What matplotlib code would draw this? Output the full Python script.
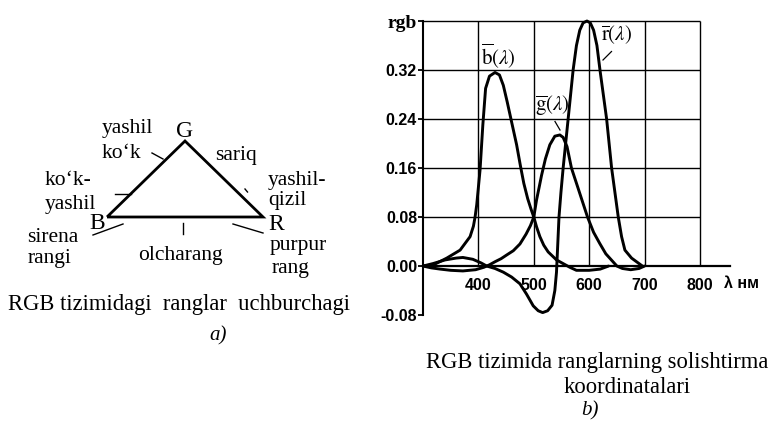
import matplotlib
matplotlib.use("Agg")
import matplotlib.pyplot as plt

plt.rcParams["mathtext.fontset"] = "stix"

# Relative colour coordinates of the RGB system (wavelength in nm)
b_nm = [300, 319, 343, 367, 385, 391, 394, 397, 403, 408, 413, 420, 430, 438,
        445, 452, 460, 469, 476, 482, 489, 495, 500, 505, 511, 518, 526, 541,
        555, 565, 577, 600, 620, 635]
b_val = [0.000, 0.002, 0.013, 0.026, 0.048, 0.065, 0.080, 0.100, 0.157, 0.230,
         0.290, 0.310, 0.316, 0.312, 0.295, 0.268, 0.235, 0.198, 0.163, 0.135,
         0.110, 0.093, 0.080, 0.064, 0.048, 0.034, 0.023, 0.010, 0.003, -0.002,
         -0.007, -0.007, -0.005, 0.000]

g_nm = [300, 315, 331, 350, 372, 395, 410, 420, 430, 441, 451, 463, 475, 486,
        494, 500, 505, 510, 514, 521, 529, 538, 547, 553, 560, 568, 580, 597,
        608, 619, 630, 641, 650, 660, 675, 690, 700]
g_val = [0.000, -0.003, -0.005, -0.007, -0.008, -0.006, -0.002, 0.002, 0.007,
         0.012, 0.018, 0.025, 0.036, 0.052, 0.066, 0.080, 0.108, 0.130, 0.148,
         0.175, 0.198, 0.212, 0.214, 0.210, 0.195, 0.160, 0.127, 0.080, 0.055,
         0.037, 0.020, 0.009, 0.000, -0.004, -0.006, -0.004, 0.000]

r_nm = [300, 318, 340, 360, 372, 390, 405, 415, 430, 445, 460, 475, 487, 499,
        508, 516, 525, 533, 538, 541, 543, 545.5, 549, 553, 562, 571, 577, 583,
        589, 596, 602, 608, 614, 619.5, 631.5, 640.5, 652.5, 658.5, 664.5,
        676.5, 688.5, 696]
r_val = [0.000, 0.004, 0.010, 0.013, 0.014, 0.011, 0.005, 0.000, -0.004,
         -0.010, -0.018, -0.029, -0.046, -0.065, -0.073, -0.076, -0.073, -0.064,
         -0.040, -0.010, 0.030, 0.080, 0.120, 0.160, 0.240, 0.320, 0.360, 0.385,
         0.397, 0.400, 0.397, 0.385, 0.360, 0.320, 0.240, 0.160, 0.080, 0.048,
         0.026, 0.013, 0.005, 0.000]

x_ticks = [400, 500, 600, 700, 800]
x_tick_labels = ["400", "500", "600", "700", "800"]
y_ticks = [-0.08, 0.00, 0.08, 0.16, 0.24, 0.32, 0.40]
y_tick_labels = ["-0.08", "0.00", "0.08", "0.16", "0.24", "0.32", "rgb"]
grid_y = [0.08, 0.16, 0.24, 0.32, 0.40]

W, H = 769, 425
fig = plt.figure(figsize=(W / 100, H / 100), dpi=100)

serif = "Liberation Serif"
sans_bold = ["Liberation Sans Narrow", "Liberation Sans"]

# ---------------- a) colour triangle (pixel coordinates) ----------------
pa = fig.add_axes([0, 0, 1, 1])
pa.set_xlim(0, W)
pa.set_ylim(H, 0)
pa.axis("off")

tri_x = [107, 185, 263, 107]
tri_y = [217, 141, 217, 217]
pa.plot(tri_x, tri_y, color="black", lw=2.0, solid_joinstyle="miter",
        solid_capstyle="butt")

leaders = [((152, 153), (163, 159)),
           ((115, 194), (131, 194)),
           ((245, 189), (247.5, 192)),
           ((182.5, 222.5), (182.5, 233.5)),
           ((93, 235), (123, 224)),
           ((233, 224), (263, 233))]
for (x0, y0), (x1, y1) in leaders:
    pa.plot([x0, x1], [y0, y1], color="black", lw=1.0)

labels_a = [("yashil", 102, 132.5, "left"),
            ("ko\u2018k", 102, 158, "left"),
            ("G", 185, 137, "center"),
            ("sariq", 215, 160, "left"),
            ("yashil-", 268, 185, "left"),
            ("qizil", 268, 205, "left"),
            ("ko\u2018k-", 45, 185, "left"),
            ("yashil", 45, 209, "left"),
            ("B", 89, 229, "left"),
            ("R", 268, 230, "left"),
            ("sirena", 27, 242, "left"),
            ("rangi", 28, 263, "left"),
            ("olcharang", 138, 260, "left"),
            ("purpur", 270, 250, "left"),
            ("rang", 272, 273, "left")]
for txt, x, y, ha in labels_a:
    size = 17 if txt in ("G", "B", "R") else 15.5
    pa.text(x, y, txt, ha=ha, va="baseline", fontsize=size, family=serif)

pa.text(8, 310, "RGB tizimidagi  ranglar  uchburchagi", ha="left",
        va="baseline", fontsize=16.3, family=serif)
pa.text(218, 340, "a)", ha="center", va="baseline", fontsize=15,
        family=serif, style="italic")

pa.text(597, 368, "RGB tizimida ranglarning solishtirma", ha="center",
        va="baseline", fontsize=16.3, family=serif)
pa.text(627, 393, "koordinatalari", ha="center", va="baseline",
        fontsize=16.3, family=serif)
pa.text(590, 415, "b)", ha="center", va="baseline", fontsize=15,
        family=serif, style="italic")

# curve names with leader lines
pa.text(498, 64, r"$\overline{\mathrm{b}}(\lambda)$", ha="center",
        va="baseline", fontsize=15)
pa.text(552, 111, r"$\overline{\mathrm{g}}(\lambda)$", ha="center",
        va="baseline", fontsize=15)
pa.text(617, 40, r"$\overline{\mathrm{r}}(\lambda)$", ha="center",
        va="baseline", fontsize=15)
pa.plot([555, 560], [121.5, 130], color="black", lw=0.9)
pa.plot([611.5, 603], [51.5, 60], color="black", lw=0.9)

# ---------------- b) colour-matching curves ----------------
x_lo, x_hi = 300, 860
y_lo, y_hi = -0.085, 0.41
px_left, px_right = 423, 733.2
px_top, px_bottom = 14.9, 318.1
ax = fig.add_axes([px_left / W, (H - px_bottom) / H,
                   (px_right - px_left) / W, (px_bottom - px_top) / H])
ax.set_facecolor("none")
ax.set_xlim(x_lo, x_hi)
ax.set_ylim(y_lo, y_hi)

for s in ("top", "right"):
    ax.spines[s].set_visible(False)
ax.spines["left"].set_bounds(-0.08, 0.40)
ax.spines["left"].set_linewidth(1.5)
ax.spines["bottom"].set_position(("data", 0))
ax.spines["bottom"].set_bounds(300, 855)
ax.spines["bottom"].set_linewidth(1.6)

# grid box
ax.vlines(x_ticks, 0, 0.40, color="black", lw=1.0)
ax.hlines(grid_y, 300, 800, color="black", lw=1.0)

curve_kw = dict(color="black", lw=2.1, solid_joinstyle="round",
                solid_capstyle="round")
ax.plot(b_nm, b_val, **curve_kw)
ax.plot(g_nm, g_val, **curve_kw)
ax.plot(r_nm, r_val, **curve_kw)

ax.set_yticks(y_ticks)
ax.set_yticklabels(y_tick_labels)
ax.tick_params(axis="y", direction="out", length=3.5, width=1.3, pad=0.8)
for lab in ax.get_yticklabels():
    lab.set_fontfamily(sans_bold)
    lab.set_fontweight("bold")
    lab.set_fontsize(11.5)
top_lab = ax.get_yticklabels()[-1]
top_lab.set_fontfamily(serif)
top_lab.set_fontsize(14)

ax.set_xticks(x_ticks)
ax.set_xticklabels(x_tick_labels)
ax.tick_params(axis="x", length=0, pad=8.5)
for lab in ax.get_xticklabels():
    lab.set_fontfamily(sans_bold)
    lab.set_fontweight("bold")
    lab.set_fontsize(11.5)

ax.text(843, -0.029, "\u03bb \u043d\u043c", ha="left", va="center",
        fontsize=11.5, fontweight="bold", family=sans_bold)

fig.savefig("out.png", dpi=100)
